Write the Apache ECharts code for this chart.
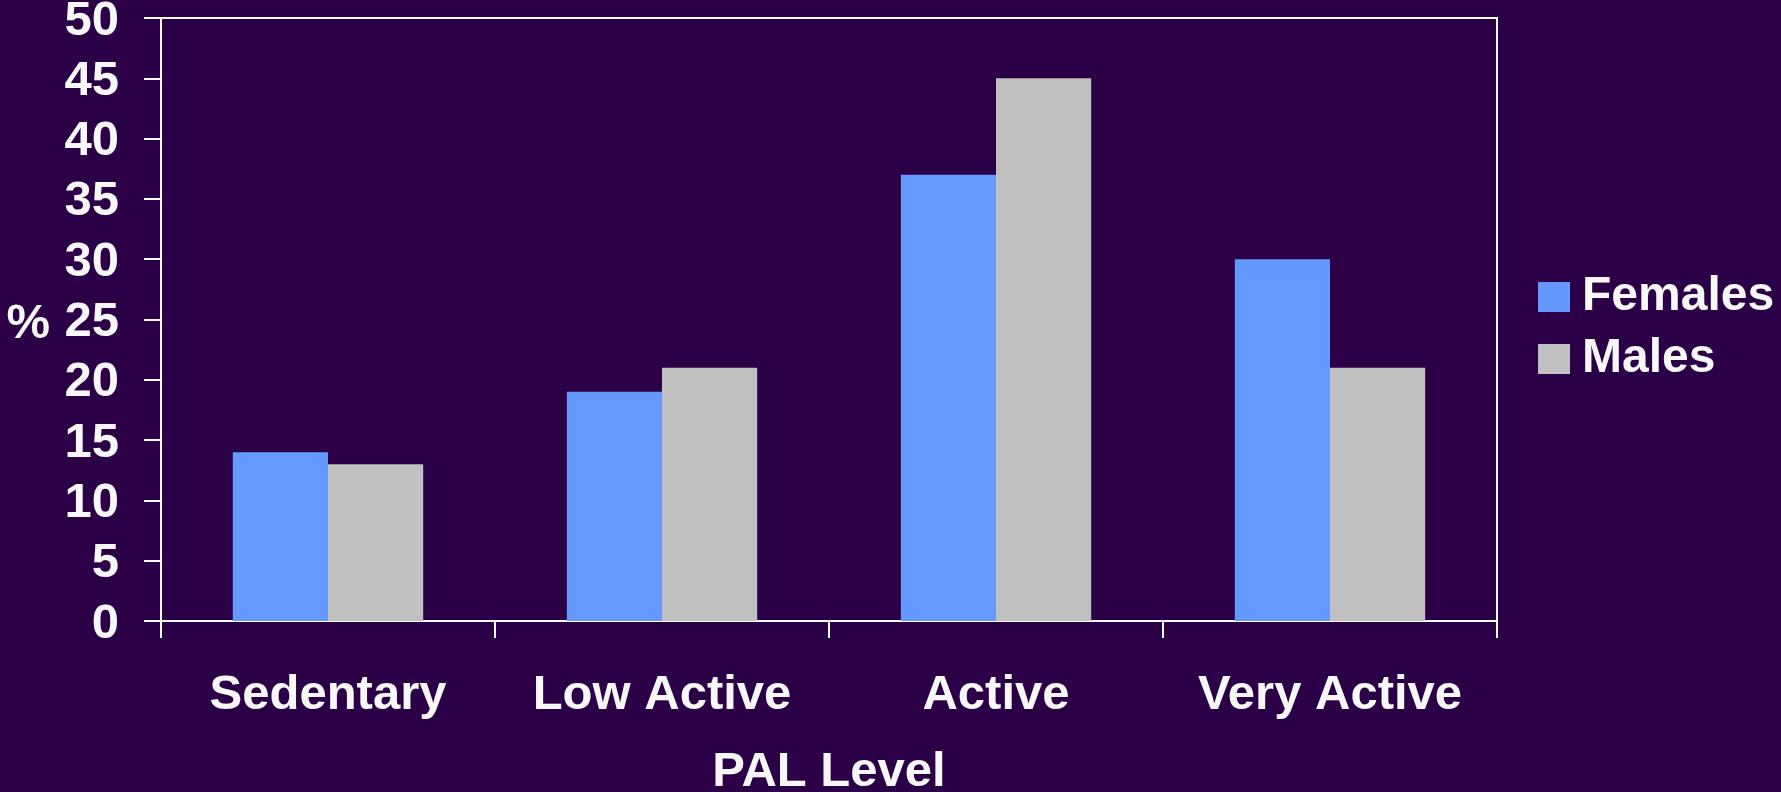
<!DOCTYPE html>
<html><head><meta charset="utf-8">
<script src="https://cdn.jsdelivr.net/npm/echarts@6/dist/echarts.min.js"></script>
<style>html,body{margin:0;padding:0;background:#2B0046;}#c{width:1781px;height:792px;}</style>
</head><body><div id="c"></div>
<script>
const categories = ['Sedentary', 'Low Active', 'Active', 'Very Active'];
const females = [14, 19, 37, 30];
const males = [13, 21, 45, 21];
const seriesNames = ['Females', 'Males'];

const FONT = '"Liberation Sans", Arial, sans-serif';
const txt = '#F7F7F7';
const chart = echarts.init(document.getElementById('c'), null, {renderer: 'canvas'});
chart.setOption({
  backgroundColor: '#2B0046',
  animation: false,
  grid: {left: 161, right: 284, top: 18, bottom: 171, show: true, borderColor: '#FFFFFF', borderWidth: 2,
         containLabel: false, outerBoundsMode: 'none'},
  legend: {
    orient: 'vertical', left: 1533, top: 268, itemWidth: 32, itemHeight: 30, itemGap: 14,
    icon: 'rect',
    textStyle: {color: txt, fontSize: 48, fontWeight: 'bold', fontFamily: FONT, padding: [0, 0, 0, 7]},
    data: seriesNames
  },
  xAxis: {
    type: 'category', data: categories,
    axisLine: {lineStyle: {color: '#FFFFFF', width: 2}},
    axisTick: {show: true, interval: 0, length: 17, lineStyle: {color: '#FFFFFF', width: 2}},
    axisLabel: {interval: 0, hideOverlap: false, color: txt, fontSize: 49, fontWeight: 'bold', fontFamily: FONT, margin: 50},
    name: 'PAL Level', nameLocation: 'middle', nameGap: 127,
    nameTextStyle: {color: txt, fontSize: 49, fontWeight: 'bold', fontFamily: FONT}
  },
  yAxis: {
    type: 'value', min: 0, max: 50, interval: 5,
    axisLine: {show: true, lineStyle: {color: '#FFFFFF', width: 2}},
    axisTick: {show: true, length: 17, lineStyle: {color: '#FFFFFF', width: 2}},
    splitLine: {show: false},
    axisLabel: {hideOverlap: false, color: txt, fontSize: 49, fontWeight: 'bold', fontFamily: FONT, margin: 42,
                verticalAlign: 'top', lineHeight: 6},
    name: '%', nameLocation: 'middle', nameRotate: 0, nameGap: 111,
    nameTextStyle: {color: txt, fontSize: 49, fontWeight: 'bold', fontFamily: FONT, verticalAlign: 'top', lineHeight: 10}
  },
  series: [
    {name: seriesNames[0], type: 'bar', data: females, itemStyle: {color: '#6699FF'}, barGap: '0%', barCategoryGap: '43%'},
    {name: seriesNames[1], type: 'bar', data: males, itemStyle: {color: '#C0C0C0'}, barGap: '0%', barCategoryGap: '43%'}
  ]
});
</script></body></html>
